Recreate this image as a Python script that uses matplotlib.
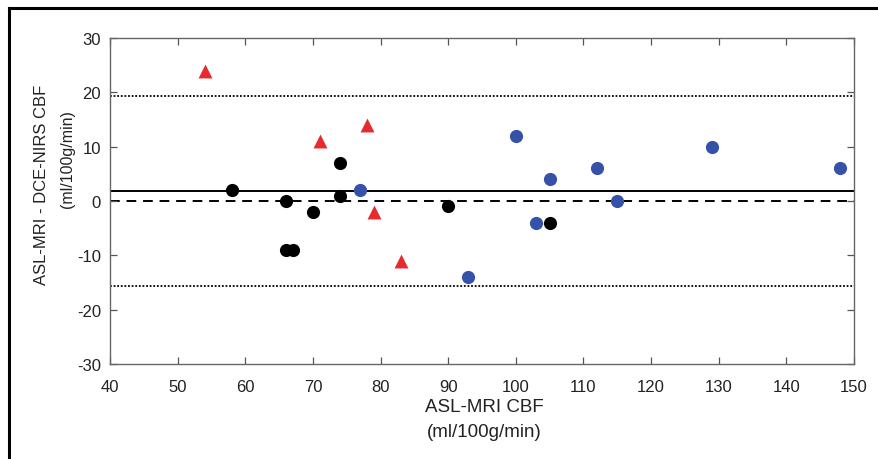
import matplotlib
matplotlib.use("Agg")
import matplotlib.pyplot as plt
from matplotlib.lines import Line2D

plt.rcParams['font.family'] = ['Liberation Sans', 'DejaVu Sans']
plt.rcParams['axes.unicode_minus'] = False

# Bland-Altman data: mean CBF (x) vs difference ASL-MRI - DCE-NIRS (y)
red_x = [54, 71, 78, 79, 83]
red_y = [24, 11, 14, -2, -11]
black_x = [58, 66, 66, 67, 70, 74, 74, 90, 105]
black_y = [2, 0, -9, -9, -2, 7, 1, -1, -4]
blue_x = [77, 93, 100, 103, 105, 112, 115, 129, 148]
blue_y = [2, -14, 12, -4, 4, 6, 0, 10, 6]

mean_diff = 1.8
upper_loa = 19.3
lower_loa = -15.7

x_ticks = list(range(40, 151, 10))
y_ticks = list(range(-30, 31, 10))

W, H = 879, 460
fig = plt.figure(figsize=(W / 100, H / 100), dpi=100)
ax = fig.add_axes([110 / W, 1 - 365 / H, (854 - 110) / W, (365 - 39) / H])

ax.axhline(upper_loa, color='black', lw=1.3, ls=(0, (1, 1)), zorder=1)
ax.axhline(lower_loa, color='black', lw=1.3, ls=(0, (1, 1)), zorder=1)
ax.axhline(mean_diff, color='black', lw=1.4, ls='-', zorder=1)
ax.axhline(0, color='black', lw=1.4, ls=(0, (5, 3.5)), zorder=1)

ax.scatter(black_x, black_y, s=90, color='black', marker='o', zorder=3, linewidths=0)
ax.scatter(blue_x, blue_y, s=90, color='#3552a8', marker='o', zorder=3, linewidths=0)
ax.scatter(red_x, red_y, s=100, color='#e62a2e', marker='^', zorder=3, linewidths=0)

ax.set_xlim(40, 150)
ax.set_ylim(-30, 30)
ax.set_xticks(x_ticks)
ax.set_yticks(y_ticks)
ax.tick_params(direction='in', length=5, width=0.9, color='#555555',
               top=True, right=True, labelsize=12, labelcolor='#222222')
ax.tick_params(axis='x', pad=10.5)
ax.tick_params(axis='y', pad=6.5)
for sp in ax.spines.values():
    sp.set_color('#666666')
    sp.set_linewidth(1.0)

# axis titles
fig.text(484 / W, 1 - 408 / H, 'ASL-MRI CBF', fontsize=13.5, color='#222222',
         ha='center', va='center')
fig.text(484 / W, 1 - 433 / H, '(ml/100g/min)', fontsize=13.5, color='#222222',
         ha='center', va='center')
fig.text(42 / W, 1 - 185 / H, 'ASL-MRI - DCE-NIRS CBF', fontsize=12, color='#222222',
         ha='center', va='center', rotation=90)
fig.text(68 / W, 1 - 159 / H, '(ml/100g/min)', fontsize=11.5, color='#222222',
         ha='center', va='center', rotation=90)

# outer frame (top and left edges)
fig.add_artist(Line2D([9 / W, 1.0], [1 - 9 / H, 1 - 9 / H], color='black', lw=2.2,
                      transform=fig.transFigure))
fig.add_artist(Line2D([9 / W, 9 / W], [1 - 9 / H, 0.0], color='black', lw=2.2,
                      transform=fig.transFigure))

fig.savefig('out.png', dpi=100)
